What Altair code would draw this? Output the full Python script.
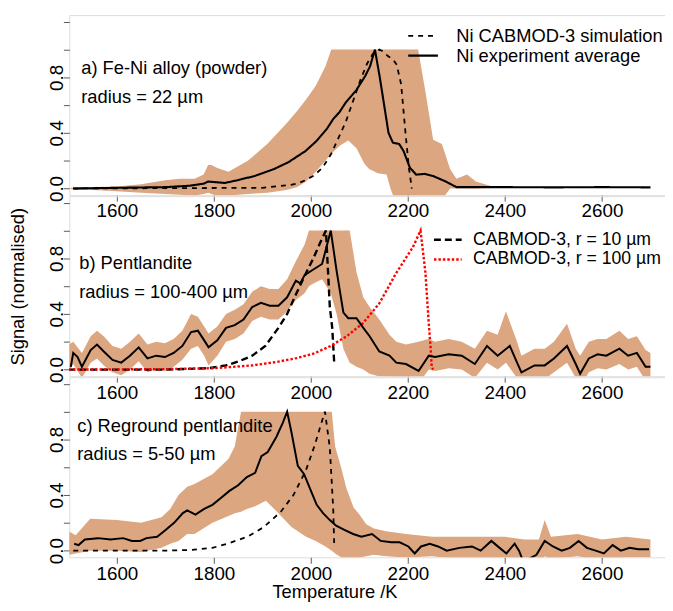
import altair as alt
import pandas as pd

FONT = "Liberation Sans"
BAND = "#DBA680"
FRAME = "#5a5a5a"
X_DOMAIN = [1502, 2730]
Y_DOMAIN = [-0.048, 1.248]
W, H = 602, 182

X_TICKS = [1600, 1800, 2000, 2200, 2400, 2600]
Y_TICKS = [0, 0.2, 0.4, 0.6, 0.8, 1.0, 1.2]

# ---------------- panel a : Fe-Ni alloy ----------------
a_avg_T = [1510, 1600, 1701, 1750, 1779, 1788, 1806, 1823, 1849, 1884, 1924, 1954, 1989, 2011, 2033, 2046,
           2059, 2072, 2094, 2112, 2122, 2132, 2142, 2151, 2160, 2169, 2182, 2191, 2204, 2217, 2234, 2252,
           2278, 2300, 2400, 2500, 2600, 2700]
a_avg = [0.0, 0.005, 0.01, 0.02, 0.035, 0.05, 0.045, 0.04, 0.06, 0.09, 0.14, 0.19, 0.27, 0.34, 0.43, 0.50,
         0.55, 0.62, 0.71, 0.81, 0.88, 1.0, 0.8, 0.6, 0.4, 0.33, 0.32, 0.27, 0.15, 0.10, 0.105, 0.09,
         0.05, 0.01, 0.01, 0.008, 0.01, 0.008]
a_sim_T = [1510, 1900, 1954, 1972, 1989, 2007, 2024, 2042, 2059, 2072, 2086, 2103, 2116, 2128, 2141, 2147,
           2160, 2169, 2177, 2186, 2195, 2202, 2208]
a_sim = [0.0, 0.005, 0.024, 0.036, 0.06, 0.095, 0.15, 0.25, 0.38, 0.48, 0.62, 0.79, 0.9, 0.97, 1.0, 0.99,
         0.95, 0.93, 0.89, 0.75, 0.4, 0.15, 0.0]
a_band_T = [1505, 1550, 1600, 1650, 1700, 1730, 1760, 1779, 1788, 1795, 1806, 1830, 1870, 1910, 1950, 1972,
            1990, 2010, 2030, 2042, 2060, 2077, 2094, 2110, 2120, 2138, 2156, 2164, 2175, 2200, 2221, 2236,
            2252, 2270, 2287, 2300, 2322, 2340, 2374, 2400, 2500, 2600, 2700]
a_band_hi = [0.005, 0.01, 0.015, 0.03, 0.06, 0.07, 0.07, 0.1, 0.17, 0.17, 0.15, 0.12, 0.2, 0.32, 0.47, 0.56,
             0.64, 0.74, 0.88, 1.0, 1.0, 1.0, 1.0, 1.0, 1.0, 1.0, 1.0, 1.0, 1.0, 1.0, 1.0, 0.7,
             0.35, 0.32, 0.14, 0.07, 0.1, 0.05, 0.015, 0.012, 0.012, 0.012, 0.01]
a_band_lo = [-0.005, -0.01, -0.02, -0.03, -0.04, -0.045, -0.05, -0.04, -0.03, -0.04, -0.05, -0.05, -0.04, -0.03,
             -0.01, 0.01, 0.05, 0.12, 0.2, 0.25, 0.31, 0.345, 0.29, 0.18, 0.14, 0.11, 0.10, 0.0, -0.1, -0.1,
             -0.1, -0.1, -0.1, -0.08, 0.0, 0.0, 0.0, 0.0, 0.005, 0.005, 0.005, 0.005, 0.005]

# ---------------- panel b : Pentlandite ----------------
b_avg_T = [1505, 1510, 1519, 1528, 1546, 1559, 1573, 1591, 1609, 1627, 1645, 1663, 1681, 1699, 1717, 1735,
           1753, 1767, 1780, 1789, 1807, 1825, 1843, 1861, 1879, 1897, 1915, 1933, 1951, 1969, 1978, 1987,
           2005, 2023, 2032, 2041, 2053, 2067, 2077, 2094, 2108, 2121, 2141, 2162, 2176, 2196, 2222, 2243,
           2256, 2284, 2311, 2338, 2363, 2385, 2410, 2425, 2434, 2461, 2482, 2501, 2528, 2546, 2555, 2573,
           2591, 2609, 2636, 2654, 2672, 2690, 2700]
b_avg = [0.02, 0.12, 0.09, 0.02, 0.14, 0.18, 0.13, 0.07, 0.05, 0.1, 0.16, 0.08, 0.1, 0.09, 0.12, 0.17,
         0.27, 0.28, 0.21, 0.16, 0.21, 0.3, 0.32, 0.36, 0.45, 0.48, 0.46, 0.46, 0.52, 0.64, 0.62, 0.68,
         0.72, 0.76, 0.88, 1.0, 0.71, 0.41, 0.37, 0.37, 0.3, 0.24, 0.13, 0.1, 0.05, 0.04, -0.01, 0.1,
         0.09, 0.11, 0.1, 0.04, 0.17, 0.1, 0.17, 0.05, -0.02, 0.03, 0.03, 0.08, 0.17, 0.04, -0.03, 0.08,
         0.11, 0.1, 0.15, 0.1, 0.12, 0.02, 0.02]
b_band_T = [1500, 1510, 1528, 1546, 1559, 1573, 1591, 1609, 1627, 1645, 1663, 1681, 1699, 1717, 1735, 1753,
            1767, 1780, 1789, 1807, 1825, 1843, 1861, 1879, 1897, 1915, 1933, 1951, 1969, 1987, 1996, 2005,
            2023, 2041, 2053, 2067, 2080, 2094, 2108, 2121, 2141, 2162, 2176, 2196, 2222, 2243, 2256, 2284,
            2311, 2338, 2363, 2385, 2402, 2425, 2434, 2461, 2482, 2501, 2528, 2546, 2555, 2573, 2591, 2609,
            2636, 2654, 2672, 2690, 2700]
b_band_hi = [0.18, 0.2, 0.12, 0.24, 0.28, 0.24, 0.17, 0.15, 0.2, 0.26, 0.18, 0.2, 0.19, 0.22, 0.28, 0.4,
             0.38, 0.31, 0.26, 0.31, 0.4, 0.43, 0.47, 0.56, 0.6, 0.58, 0.58, 0.65, 0.78, 0.9, 1.0, 1.0,
             1.0, 1.0, 1.0, 1.0, 1.0, 0.7, 0.52, 0.45, 0.36, 0.25, 0.2, 0.18, 0.2, 0.22, 0.2, 0.22,
             0.2, 0.15, 0.28, 0.25, 0.42, 0.2, 0.1, 0.15, 0.15, 0.2, 0.33, 0.15, 0.1, 0.2, 0.22, 0.22,
             0.28, 0.22, 0.24, 0.14, 0.12]
b_band_lo = [-0.03, 0.04, -0.06, 0.05, 0.08, 0.03, -0.02, -0.04, 0.0, 0.06, -0.02, 0.0, -0.01, 0.02, 0.07, 0.15,
             0.17, 0.1, 0.03, 0.1, 0.2, 0.22, 0.26, 0.35, 0.38, 0.36, 0.36, 0.42, 0.5, 0.55, 0.6, 0.62,
             0.65, 0.55, 0.4, 0.15, 0.05, 0.02, 0.0, -0.03, -0.05, -0.05, -0.06, -0.06, -0.1, 0.0, -0.01, 0.01,
             0.0, -0.06, 0.05, 0.0, 0.05, -0.06, -0.1, -0.07, -0.07, -0.02, 0.05, -0.06, -0.12, -0.02, 0.01, 0.0,
             0.04, 0.0, 0.02, -0.08, -0.06]
b_sim10_T = [1500, 1700, 1744, 1789, 1825, 1852, 1879, 1906, 1933, 1951, 1969, 1992, 2005, 2020, 2031, 2039,
             2044, 2048, 2049]
b_sim10 = [0.0, 0.0, 0.005, 0.01, 0.03, 0.06, 0.1, 0.17, 0.3, 0.4, 0.54, 0.71, 0.8, 0.92, 1.0, 0.45,
           0.3, 0.05, 0.03]
b_sim100_T = [1500, 1700, 1800, 1880, 1930, 1971, 2005, 2039, 2073, 2107, 2141, 2175, 2210, 2226, 2236, 2243,
              2247, 2249, 2252]
b_sim100 = [0.0, 0.003, 0.01, 0.03, 0.055, 0.083, 0.114, 0.167, 0.238, 0.333, 0.476, 0.69, 0.88, 1.0, 0.7, 0.33,
            0.15, 0.02, 0.0]

# ---------------- panel c : Reground pentlandite ----------------
c_avg_T = [1512, 1521, 1534, 1561, 1587, 1613, 1631, 1648, 1661, 1683, 1701, 1718, 1736, 1745, 1762, 1780,
           1797, 1815, 1832, 1850, 1868, 1885, 1898, 1911, 1929, 1942, 1951, 1960, 1973, 1986, 1999, 2012,
           2025, 2039, 2052, 2069, 2087, 2104, 2126, 2144, 2166, 2183, 2201, 2214, 2227, 2245, 2262, 2280,
           2306, 2332, 2350, 2372, 2389, 2403, 2420, 2429, 2438, 2465, 2482, 2499, 2517, 2534, 2552, 2569,
           2587, 2604, 2622, 2639, 2657, 2675, 2697]
c_avg = [0.05, 0.04, 0.08, 0.09, 0.08, 0.09, 0.07, 0.07, 0.09, 0.1, 0.15, 0.2, 0.27, 0.29, 0.26, 0.3,
         0.33, 0.38, 0.43, 0.47, 0.53, 0.56, 0.68, 0.71, 0.82, 0.92, 1.0, 0.85, 0.61, 0.55, 0.44, 0.33,
         0.27, 0.22, 0.18, 0.15, 0.12, 0.1, 0.12, 0.07, 0.06, 0.06, 0.03, -0.02, 0.03, 0.05, 0.03, 0.0,
         0.02, 0.03, 0.0, 0.07, 0.02, -0.02, 0.05, 0.0, -0.08, -0.03, 0.07, 0.03, 0.0, 0.02, 0.07, 0.02,
         0.0, -0.02, 0.04, 0.0, 0.02, 0.01, 0.01]
c_sim_T = [1510, 1700, 1753, 1797, 1828, 1869, 1903, 1938, 1964, 1990, 2008, 2020, 2029, 2039, 2046, 2048]
c_sim = [0.0, 0.0, 0.005, 0.02, 0.05, 0.1, 0.17, 0.28, 0.4, 0.58, 0.76, 0.9, 1.0, 0.74, 0.3, 0.05]
c_band_T = [1500, 1515, 1545, 1600, 1650, 1692, 1710, 1727, 1745, 1760, 1797, 1830, 1843, 1856, 1868, 1885,
            1907, 1930, 1960, 1990, 2010, 2030, 2043, 2050, 2063, 2073, 2088, 2100, 2114, 2130, 2155, 2196,
            2250, 2300, 2350, 2400, 2440, 2470, 2482, 2495, 2550, 2600, 2650, 2700]
c_band_hi = [0.14, 0.11, 0.23, 0.22, 0.2, 0.24, 0.3, 0.4, 0.46, 0.48, 0.55, 0.66, 0.75, 1.0, 1.0, 1.0,
             1.0, 1.0, 1.0, 1.0, 1.0, 1.0, 1.0, 0.75, 0.59, 0.45, 0.31, 0.26, 0.19, 0.16, 0.14, 0.12,
             0.1, 0.1, 0.1, 0.1, 0.08, 0.08, 0.22, 0.1, 0.12, 0.08, 0.1, 0.08]
c_band_lo = [-0.03, -0.02, 0.0, 0.0, -0.01, 0.02, 0.05, 0.07, 0.12, 0.12, 0.2, 0.25, 0.27, 0.28, 0.3, 0.32,
             0.36, 0.28, 0.17, 0.1, 0.07, 0.03, 0.0, -0.02, -0.05, -0.07, -0.07, -0.05, -0.04, -0.03, -0.04, -0.05,
             -0.04, -0.06, -0.06, -0.07, -0.1, -0.1, -0.04, -0.06, -0.04, -0.07, -0.05, -0.05]

SIM_A, EXP_A = "Ni CABMOD-3 simulation", "Ni experiment average"
R10, R100 = "CABMOD-3, r = 10 µm", "CABMOD-3, r = 100 µm"
NOTE_A = ["a) Fe-Ni alloy (powder)", "radius = 22 µm"]
NOTE_B = ["b) Pentlandite", "radius = 100-400 µm"]
NOTE_C = ["c) Reground pentlandite", "radius = 5-50 µm"]


def x_enc(title=None):
    ax = alt.Axis(values=X_TICKS, format="d", tickSize=6, tickColor=FRAME, domain=False, grid=False,
                  labelFontSize=19, labelPadding=1, labelFlush=False, labelOverlap=False,
                  labelColor="black", title=title, titleFontSize=18.5, titleFontWeight="normal",
                  titlePadding=0, titleColor="black", titleX=268)
    return alt.X("T:Q", scale=alt.Scale(domain=X_DOMAIN, nice=False, zero=False), axis=ax)


def y_axis(title=None):
    return alt.Axis(values=Y_TICKS, format=".1f",
                    labelExpr="indexof(['0.0','0.4','0.8'], datum.label) >= 0 ? datum.label : ''",
                    labelAngle=270, labelAlign="center", labelBaseline="alphabetic", labelPadding=1,
                    labelOverlap=False, labelFlush=False, tickSize=6, tickColor=FRAME, domain=False,
                    grid=False, labelFontSize=19, labelColor="black", title=title, titleFontSize=18.5,
                    titleFontWeight="normal", titleColor="black", titlePadding=20)


def y_enc(field, title=None):
    return alt.Y(field, scale=alt.Scale(domain=Y_DOMAIN, nice=False, zero=False), axis=y_axis(title))


def band_layer(T, hi, lo, ytitle=None, xtitle=None):
    df = pd.DataFrame({"T": T, "hi": hi, "lo": lo})
    return alt.Chart(df).mark_area(color=BAND, opacity=1, clip=True).encode(
        x=x_enc(xtitle), y=y_enc("hi:Q", ytitle), y2="lo:Q")


def avg_layer(T, v, ytitle=None, xtitle=None):
    df = pd.DataFrame({"T": T, "v": v})
    return alt.Chart(df).mark_line(color="black", strokeWidth=2, clip=True).encode(
        x=x_enc(xtitle), y=y_enc("v:Q", ytitle))


def note_layer(lines, dx, dy):
    return alt.Chart(pd.DataFrame({"k": [0]})).mark_text(
        align="left", baseline="top", fontSize=18.5, font=FONT, lineHeight=28.5, color="black"
    ).encode(x=alt.value(dx), y=alt.value(dy), text=alt.value(lines))


def legend(x, y, sym, offset, fs, rowpad):
    return alt.Legend(orient="none", legendX=x, legendY=y, title=None, symbolType="stroke",
                      symbolSize=sym * sym, symbolStrokeWidth=2.2, labelFontSize=fs, labelFont=FONT,
                      labelOffset=offset, rowPadding=rowpad, padding=0, labelColor="black",
                      labelLimit=0, clipHeight=20)


# panel a
a_lines = pd.DataFrame({"T": a_sim_T + a_avg_T, "v": a_sim + a_avg,
                        "s": [SIM_A] * len(a_sim_T) + [EXP_A] * len(a_avg_T)})
leg_a = legend(341, 11, 30, 17, 18.5, -0.5)
panel_a = alt.layer(
    band_layer(a_band_T, a_band_hi, a_band_lo),
    alt.Chart(a_lines).mark_line(clip=True).encode(
        x=x_enc(), y=y_enc("v:Q"),
        color=alt.Color("s:N", scale=alt.Scale(domain=[SIM_A, EXP_A], range=["black", "black"]), legend=leg_a),
        strokeDash=alt.StrokeDash("s:N", scale=alt.Scale(domain=[SIM_A, EXP_A], range=[[5, 5], [1, 0]]),
                                  legend=leg_a),
        strokeWidth=alt.StrokeWidth("s:N", scale=alt.Scale(domain=[SIM_A, EXP_A], range=[1.8, 2.1]),
                                    legend=None),
    ),
    note_layer(NOTE_A, 12, 45),
).properties(width=W, height=H)

# panel b
YT = "Signal (normalised)"
b_sims = pd.DataFrame({"T": b_sim10_T + b_sim100_T, "v": b_sim10 + b_sim100,
                       "s": [R10] * len(b_sim10_T) + [R100] * len(b_sim100_T)})
leg_b = legend(367, 34, 28, 10, 17.8, -1.5)
panel_b = alt.layer(
    band_layer(b_band_T, b_band_hi, b_band_lo, ytitle=YT),
    alt.Chart(b_sims).mark_line(clip=True).encode(
        x=x_enc(), y=y_enc("v:Q", YT),
        color=alt.Color("s:N", scale=alt.Scale(domain=[R10, R100], range=["black", "red"]), legend=leg_b),
        strokeDash=alt.StrokeDash("s:N", scale=alt.Scale(domain=[R10, R100], range=[[7, 4], [2.5, 2]]),
                                  legend=leg_b),
        strokeWidth=alt.StrokeWidth("s:N", scale=alt.Scale(domain=[R10, R100], range=[2.4, 2.4]),
                                    legend=None),
    ),
    avg_layer(b_avg_T, b_avg, ytitle=YT),
    note_layer(NOTE_B, 10, 59),
).properties(width=W, height=H)

# panel c
XT = "Temperature /K"
c_sim_df = pd.DataFrame({"T": c_sim_T, "v": c_sim})
panel_c = alt.layer(
    band_layer(c_band_T, c_band_hi, c_band_lo, xtitle=XT),
    alt.Chart(c_sim_df).mark_line(color="black", strokeWidth=1.8, strokeDash=[5, 5], clip=True).encode(
        x=x_enc(XT), y=y_enc("v:Q")),
    avg_layer(c_avg_T, c_avg, xtitle=XT),
    note_layer(NOTE_C, 8, 40),
).properties(width=W, height=H)

chart = alt.vconcat(panel_a, panel_b, panel_c, spacing=1, bounds="flush").resolve_scale(
    color="independent", strokeDash="independent", strokeWidth="independent"
).resolve_legend(color="independent", strokeDash="independent").properties(
    autosize=alt.AutoSizeParams(type="none"),
    padding={"left": 62, "top": 4, "right": 0, "bottom": 591}
).configure_view(stroke=FRAME, strokeWidth=1.2).configure(font=FONT).configure_axis(
    labelFont=FONT, titleFont=FONT).configure_legend(labelFont=FONT)

chart.save("out.html", embed_options={"renderer": "svg", "actions": False})
